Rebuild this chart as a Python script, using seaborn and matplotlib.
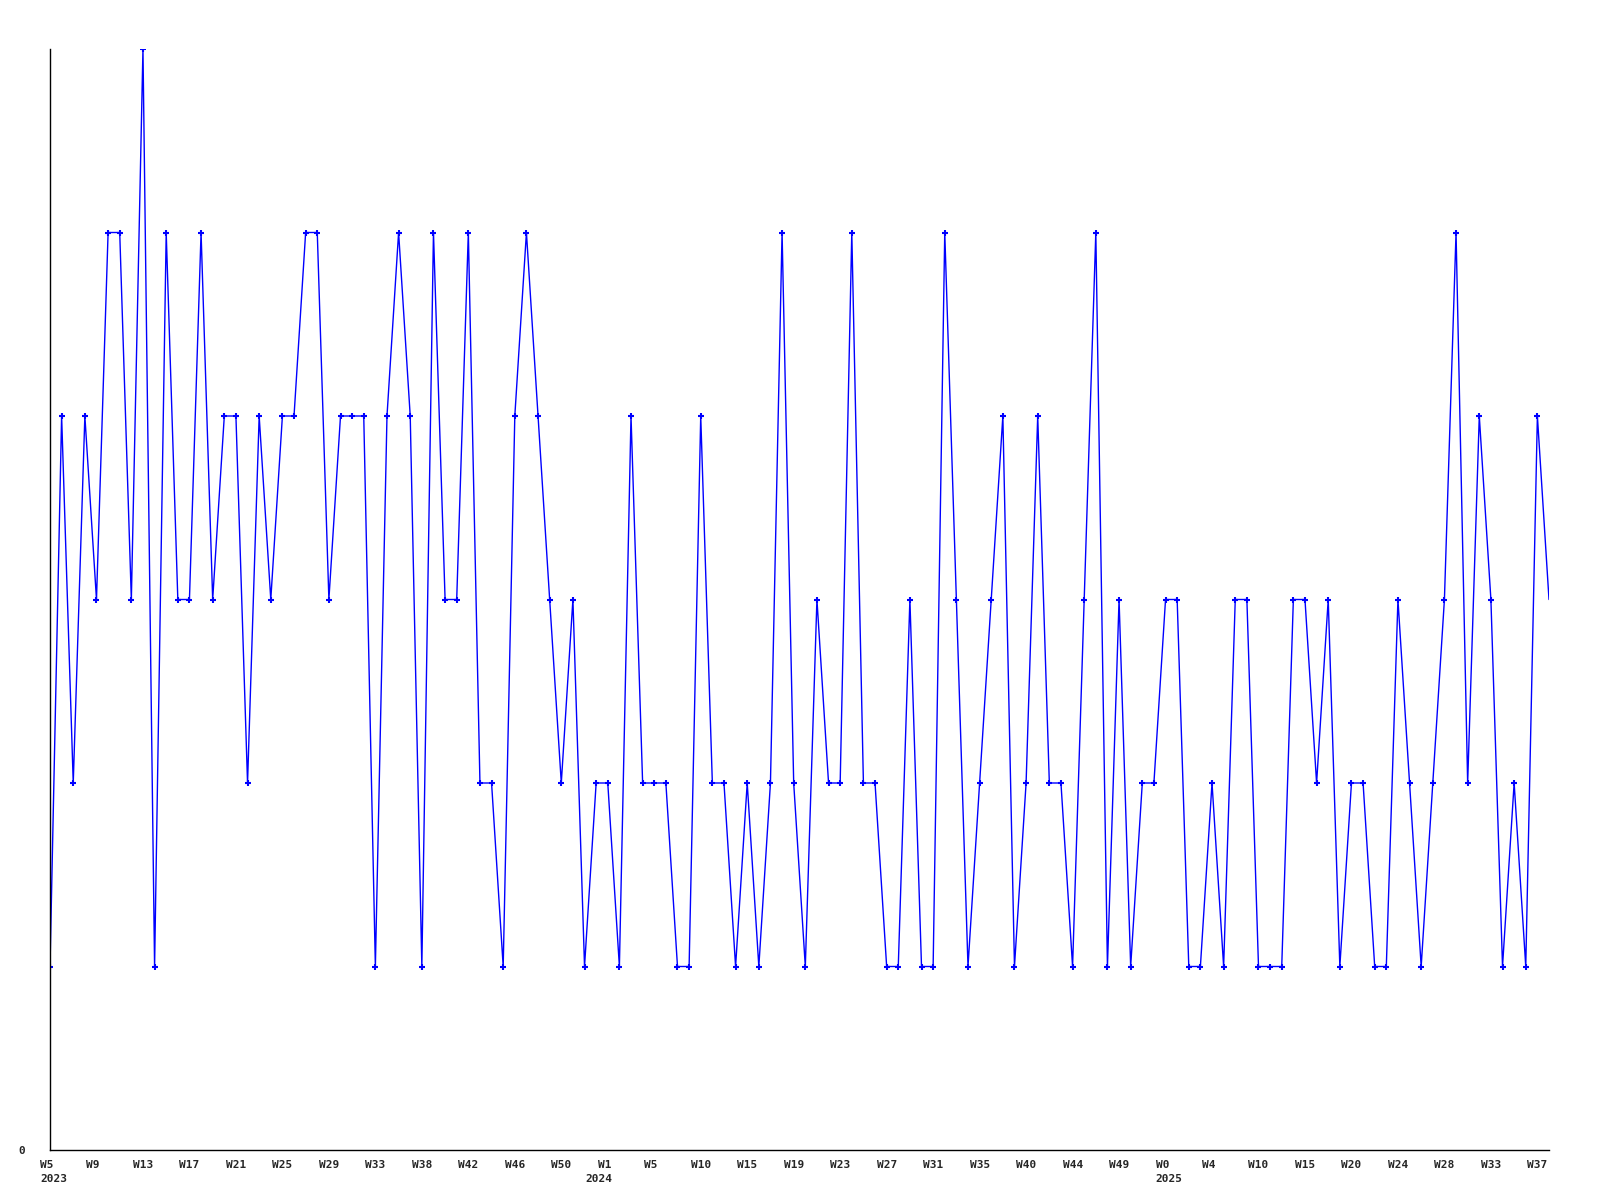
import numpy as np
import matplotlib
matplotlib.use("Agg")
import matplotlib.pyplot as plt
import matplotlib.transforms as mtransforms
import seaborn as sns

# weekly counts, 2023 W5 .. 2025 W38
counts = [1, 4, 2, 4, 3, 5, 5, 3, 6, 1,
          5, 3, 3, 5, 3, 4, 4, 2, 4, 3,
          4, 4, 5, 5, 3, 4, 4, 4, 1, 4,
          5, 4, 1, 5, 3, 3, 5, 2, 2, 1,
          4, 5, 4, 3, 2, 3, 1, 2, 2, 1,
          4, 2, 2, 2, 1, 1, 4, 2, 2, 1,
          2, 1, 2, 5, 2, 1, 3, 2, 2, 5,
          2, 2, 1, 1, 3, 1, 1, 5, 3, 1,
          2, 3, 4, 1, 2, 4, 2, 2, 1, 3,
          5, 1, 3, 1, 2, 2, 3, 3, 1, 1,
          2, 1, 3, 3, 1, 1, 1, 3, 3, 2,
          3, 1, 2, 2, 1, 1, 3, 2, 1, 2,
          3, 5, 2, 4, 3, 1, 2, 1, 4, 3]

# one label every 4 weeks
week_labels = ["W5", "W9", "W13", "W17", "W21", "W25", "W29", "W33", "W38",
               "W42", "W46", "W50", "W1", "W5", "W10", "W15", "W19", "W23",
               "W27", "W31", "W35", "W40", "W44", "W49", "W0", "W4", "W10",
               "W15", "W20", "W24", "W28", "W33", "W37"]
year_weeks = [0, 48, 96]
year_labels = ["2023", "2024", "2025"]

sns.set_style("white")
plt.rcParams['font.family'] = ['DejaVu Sans Mono']

fig = plt.figure(figsize=(16, 12), dpi=100)
ax = fig.add_axes([50 / 1600, 50 / 1200, 1499 / 1600, 1101 / 1200])

x = np.arange(len(counts))
sns.lineplot(x=x, y=counts, ax=ax, color="#0000ff", linewidth=1.0,
             marker="+", markersize=3.8, markeredgewidth=1.5,
             markeredgecolor="#0000ff", markevery=slice(0, len(counts) - 1))

ax.set_xlim(0, len(counts) - 1)
ax.set_ylim(0, 6)

ax.set_xticks(x[::4])
ax.set_xticklabels(week_labels, fontsize=8, fontweight="bold", ha="left")
# years go on a second row, as minor ticks
ax.xaxis.remove_overlapping_locs = False
ax.set_xticks(year_weeks, minor=True)
ax.set_xticklabels(year_labels, minor=True, fontsize=8, fontweight="bold",
                   ha="left")

ax.set_yticks([0])
ax.set_yticklabels(["0"], fontsize=8, fontweight="bold")
ax.tick_params(axis="x", which="major", length=0, pad=7)
ax.tick_params(axis="x", which="minor", length=0, pad=17)
ax.tick_params(axis="y", length=0, pad=18)

for side in ["top", "right"]:
    ax.spines[side].set_visible(False)
for side in ["left", "bottom"]:
    ax.spines[side].set_color("black")
    ax.spines[side].set_linewidth(1.0)
ax.grid(False)

# labels start a little left of their tick
fig.canvas.draw()
shift = mtransforms.ScaledTranslation(-10 / 100, 0, fig.dpi_scale_trans)
for t in ax.xaxis.get_major_ticks():
    t.label1.set_transform(t.label1.get_transform() + shift)
for t, dx in zip(ax.xaxis.get_minor_ticks(), [-10, -22, -10]):
    tr = mtransforms.ScaledTranslation(dx / 100, 0, fig.dpi_scale_trans)
    t.label1.set_transform(t.label1.get_transform() + tr)

fig.savefig("out.png", dpi=100, facecolor="white")
